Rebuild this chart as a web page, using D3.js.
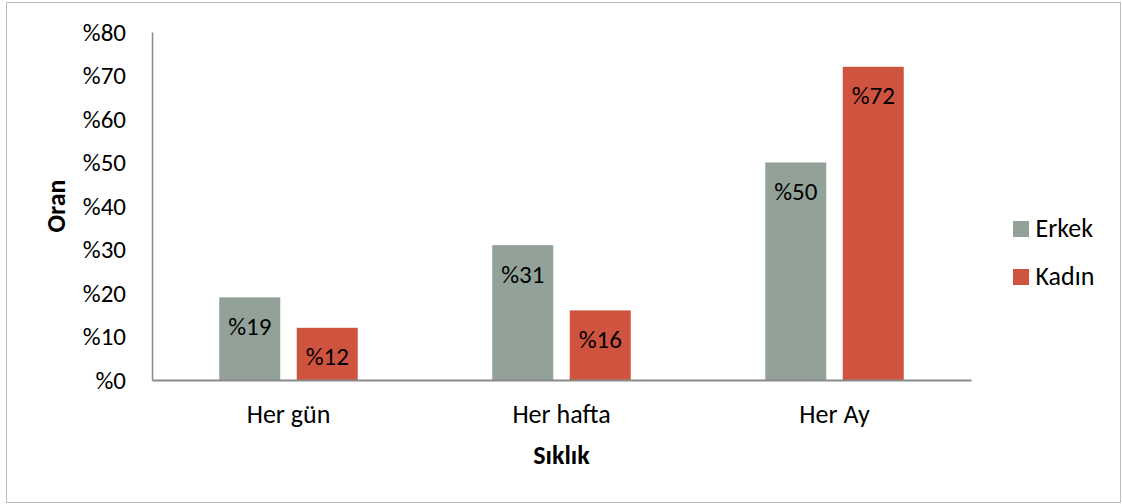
<!DOCTYPE html>
<html>
<head>
<meta charset="utf-8">
<script src="https://cdn.jsdelivr.net/npm/d3@7"></script>
<style>
  html, body { margin: 0; padding: 0; background: #fff; }
  svg text { font-family: Carlito, Calibri, "Open Sans", sans-serif; fill: #000; }
</style>
</head>
<body>
<svg id="chart" width="1122" height="504"></svg>
<script>
// Survey data: frequency by gender (percent)
const categories = ["Her gün", "Her hafta", "Her Ay"];
const seriesNames = ["Erkek", "Kadın"];
const erkek = [19, 31, 50];
const kadin = [12, 16, 72];
const yTicks = [0, 10, 20, 30, 40, 50, 60, 70, 80];
const colors = ["#93A299", "#CF543F"];

const svg = d3.select("#chart");

// Outer chart frame
svg.append("rect")
  .attr("x", 6.5).attr("y", 2.5)
  .attr("width", 1114).attr("height", 500)
  .attr("fill", "#fff").attr("stroke", "#bdbdbd").attr("stroke-width", 1);

const plot = { left: 152, right: 971, top: 32, bottom: 380 };

const x0 = d3.scaleBand().domain(categories)
  .range([plot.left, plot.right]).paddingInner(0).paddingOuter(0);
const y = d3.scaleLinear().domain([0, 80]).range([plot.bottom, plot.top]);

const barW = 61, gap = 16.5;
const x1 = d3.scaleOrdinal().domain(seriesNames)
  .range([-(barW + gap / 2), gap / 2]);

const rows = categories.map((c, i) => ({ cat: c, values: [erkek[i], kadin[i]] }));

// Bars
const groups = svg.append("g").selectAll("g").data(rows).join("g")
  .attr("transform", d => `translate(${x0(d.cat) + x0.bandwidth() / 2},0)`);

groups.selectAll("rect")
  .data(d => d.values.map((v, j) => ({ name: seriesNames[j], v, j })))
  .join("rect")
  .attr("x", d => x1(d.name))
  .attr("width", barW)
  .attr("y", d => y(d.v))
  .attr("height", d => y(0) - y(d.v))
  .attr("fill", d => colors[d.j]);

// Value labels inside bars
groups.selectAll("text.val")
  .data(d => d.values.map((v, j) => ({ name: seriesNames[j], v, j })))
  .join("text")
  .attr("class", "val")
  .attr("x", d => x1(d.name) + barW / 2)
  .attr("y", d => y(d.v) + 37.5)
  .attr("text-anchor", "middle")
  .style("font-size", "25px")
  .text(d => "%" + d.v);

// Y axis
const yAxis = d3.axisLeft(y).tickValues(yTicks).tickSize(0).tickPadding(26)
  .tickFormat(d => "%" + d);
const gy = svg.append("g").attr("transform", `translate(${plot.left},0)`).call(yAxis);
gy.select(".domain").attr("stroke", "#8a8a8a").attr("stroke-width", 1.5);
gy.selectAll("text").style("font-size", "25px").attr("dy", "0.33em");

// X axis
const xAxis = d3.axisBottom(x0).tickSize(0);
const gx = svg.append("g").attr("transform", `translate(0,${plot.bottom})`).call(xAxis);
gx.select(".domain").attr("stroke", "#8a8a8a").attr("stroke-width", 1.8);
gx.selectAll("text").style("font-size", "26px").attr("y", 43).attr("dy", "0");

// Axis titles
svg.append("text")
  .attr("transform", `translate(65,${(plot.top + plot.bottom) / 2}) rotate(-90)`)
  .attr("text-anchor", "middle")
  .style("font-size", "26px").style("font-weight", "bold")
  .text("Oran");

svg.append("text")
  .attr("x", (plot.left + plot.right) / 2).attr("y", 464)
  .attr("text-anchor", "middle")
  .style("font-size", "26px").style("font-weight", "bold")
  .text("Sıklık");

// Legend
const legend = svg.append("g").selectAll("g").data(seriesNames).join("g")
  .attr("transform", (d, i) => `translate(1013,${221 + i * 48})`);
legend.append("rect").attr("width", 16).attr("height", 16)
  .attr("fill", (d, i) => colors[i]);
legend.append("text").attr("x", 22.5).attr("y", 16)
  .style("font-size", "26px").text(d => d);
</script>
</body>
</html>
